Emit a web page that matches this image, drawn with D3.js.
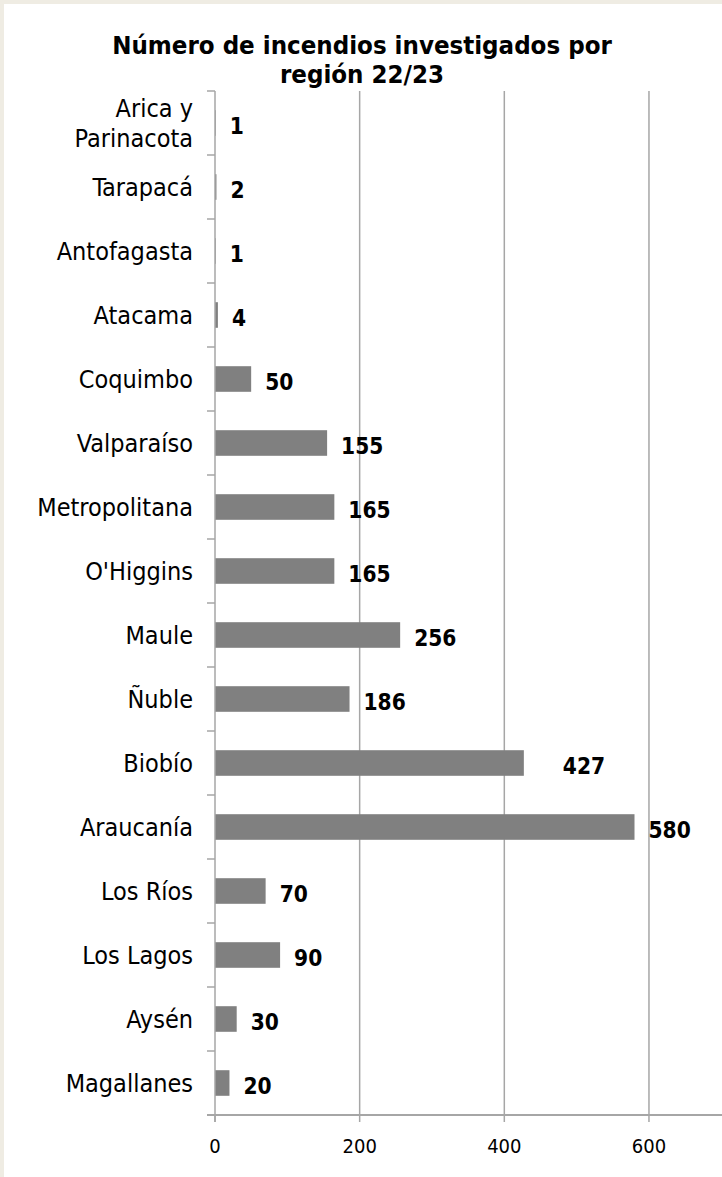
<!DOCTYPE html>
<html><head><meta charset="utf-8">
<script src="https://cdn.jsdelivr.net/npm/d3@7"></script>
<style>
html,body{margin:0;padding:0;background:#efece3;}
svg{display:block;}
</style></head>
<body>
<svg id="chart" width="722" height="1177"></svg>
<script>
const categories = ["Arica y Parinacota","Tarapacá","Antofagasta","Atacama","Coquimbo","Valparaíso","Metropolitana","O'Higgins","Maule","Ñuble","Biobío","Araucanía","Los Ríos","Los Lagos","Aysén","Magallanes"];
const values = [1,2,1,4,50,155,165,165,256,186,427,580,70,90,30,20];
const xTicks = [0,200,400,600];
const titleLines = ["Número de incendios investigados por","región 22/23"];

(function(){
const data = categories.map((c,i)=>({cat:c,val:values[i]}));
const svg = d3.select("#chart");
const W = 722, H = 1177;
const font = "'DejaVu Sans Condensed','DejaVu Sans',sans-serif";

svg.append("rect").attr("x",0).attr("y",0).attr("width",W).attr("height",H).attr("fill","#efece3");
svg.append("rect").attr("x",4).attr("y",4).attr("width",W-4).attr("height",H-4).attr("fill","#ffffff");

const pLeft = 215, pRight = 721.3, pTop = 91, pBottom = 1115;
const x = d3.scaleLinear().domain([0,700]).range([pLeft,pRight]);
const y = d3.scaleBand().domain(categories).range([pTop,pBottom]).paddingInner(0.6).paddingOuter(0.3);

// title
svg.append("text").attr("text-anchor","middle")
  .attr("font-family",font).attr("font-weight","bold").attr("font-size",25.6).attr("fill","#000")
  .selectAll("tspan").data(titleLines).join("tspan")
  .attr("x",362).attr("y",(d,i)=>54+i*29).text(d=>d);

// gridlines
svg.append("g").selectAll("line").data(xTicks.filter(d=>d>0)).join("line")
  .attr("x1",d=>x(d)).attr("x2",d=>x(d)).attr("y1",pTop).attr("y2",pBottom)
  .attr("stroke","#a6a6a6").attr("stroke-width",1.5);

// bars
svg.append("g").selectAll("rect").data(data).join("rect")
  .attr("x",x(0)).attr("y",d=>y(d.cat)).attr("width",d=>x(d.val)-x(0)).attr("height",y.bandwidth())
  .attr("fill","#808080");

// y axis line and ticks
const step = y.step();
svg.append("line").attr("x1",pLeft).attr("x2",pLeft).attr("y1",pTop).attr("y2",pBottom+7)
  .attr("stroke","#a6a6a6").attr("stroke-width",1.5);
svg.append("g").selectAll("line").data(d3.range(categories.length+1)).join("line")
  .attr("x1",pLeft-8).attr("x2",pLeft).attr("y1",i=>pTop+i*step).attr("y2",i=>pTop+i*step)
  .attr("stroke","#a6a6a6").attr("stroke-width",1.5);

// x axis
svg.append("line").attr("x1",pLeft-8).attr("x2",W).attr("y1",pBottom).attr("y2",pBottom)
  .attr("stroke","#a6a6a6").attr("stroke-width",2);
svg.append("g").selectAll("line").data(xTicks).join("line")
  .attr("x1",d=>x(d)).attr("x2",d=>x(d)).attr("y1",pBottom).attr("y2",pBottom+7)
  .attr("stroke","#a6a6a6").attr("stroke-width",1.5);
svg.append("g").selectAll("text").data(xTicks).join("text")
  .attr("x",d=>x(d)).attr("y",pBottom+38).attr("text-anchor","middle")
  .attr("font-family",font).attr("font-size",20).attr("fill","#000").text(d=>d);

// category labels
const catG = svg.append("g");
data.forEach(d=>{
  const cy = y(d.cat)+y.bandwidth()/2;
  const lines = d.cat==="Arica y Parinacota" ? ["Arica y","Parinacota"] : [d.cat];
  const lh = 30;
  const t = catG.append("text").attr("text-anchor","end").attr("font-family",font)
    .attr("font-size",25).attr("fill","#000");
  lines.forEach((l,i)=>{
    t.append("tspan").attr("x",193).attr("y",cy + (i-(lines.length-1)/2)*lh).attr("dy","0.36em").text(l);
  });
});

// value labels
const extraDx = {"Biobío":25};
svg.append("g").selectAll("text").data(data).join("text")
  .attr("x",d=>x(d.val)+14+(extraDx[d.cat]||0))
  .attr("y",d=>y(d.cat)+y.bandwidth()/2+3).attr("dy","0.36em")
  .attr("font-family",font).attr("font-weight","bold").attr("font-size",22.5).attr("fill","#000")
  .text(d=>d.val);
})();
</script>
</body></html>
